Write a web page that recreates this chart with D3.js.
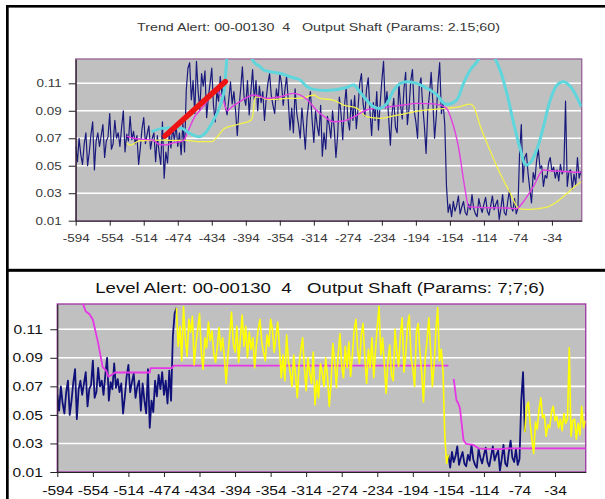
<!DOCTYPE html>
<html><head><meta charset="utf-8">
<script src="https://cdn.jsdelivr.net/npm/d3@7"></script>
<style>
body{margin:0;background:#fff}
svg{display:block}
text{font-family:"Liberation Sans",Arial,sans-serif;white-space:pre}
</style>
</head><body>
<svg id="chart" width="605" height="499"></svg>
<script>
// ---------------- data ----------------
const trendTitle = "Trend Alert: 00-00130  4   Output Shaft (Params: 2.15;60)";
const levelTitle = "Level Alert: 00-00130  4   Output Shaft (Params: 7;7;6)";
const xTickValues = [-594,-554,-514,-474,-434,-394,-354,-314,-274,-234,-194,-154,-114,-74,-34];
const yTickValues = [0.01,0.03,0.05,0.07,0.09,0.11];
// sample offsets (every 2nd reading) from -594 to 0
const sampleTimes = d3.range(-594, 1, 2);
// Output shaft vibration readings
const shaftVibration = [
 0.064,0.053,0.070,0.058,0.051,0.066,0.074,0.050,0.060,0.073,
 0.082,0.047,0.068,0.074,0.064,0.072,0.080,0.056,0.068,0.071,
 0.088,0.062,0.066,0.083,0.070,0.074,0.064,0.078,0.090,0.060,
 0.073,0.068,0.086,0.069,0.075,0.066,0.072,0.051,0.063,0.077,
 0.085,0.066,0.073,0.079,0.062,0.070,0.074,0.053,0.072,0.060,
 0.051,0.082,0.041,0.060,0.052,0.074,0.063,0.078,0.068,0.080,
 0.064,0.074,0.058,0.081,0.060,0.105,0.121,0.125,0.098,0.112,
 0.088,0.126,0.104,0.091,0.117,0.108,0.119,0.085,0.100,0.110,
 0.121,0.094,0.082,0.104,0.097,0.115,0.102,0.109,0.093,0.087,
 0.098,0.111,0.095,0.104,0.090,0.072,0.092,0.106,0.122,0.100,
 0.094,0.112,0.087,0.104,0.120,0.098,0.112,0.090,0.108,0.096,
 0.104,0.083,0.099,0.110,0.117,0.101,0.094,0.088,0.106,0.098,
 0.117,0.110,0.094,0.105,0.115,0.097,0.076,0.092,0.074,0.106,
 0.088,0.080,0.070,0.092,0.078,0.062,0.085,0.096,0.104,0.083,
 0.067,0.090,0.079,0.072,0.094,0.057,0.074,0.062,0.086,0.080,
 0.070,0.090,0.077,0.056,0.072,0.100,0.088,0.069,0.093,0.107,
 0.084,0.076,0.098,0.083,0.101,0.077,0.092,0.110,0.117,0.095,
 0.086,0.106,0.114,0.090,0.072,0.096,0.083,0.104,0.076,0.095,
 0.112,0.126,0.092,0.104,0.085,0.065,0.088,0.099,0.078,0.074,
 0.110,0.094,0.084,0.106,0.118,0.080,0.092,0.112,0.120,0.090,
 0.082,0.070,0.108,0.114,0.094,0.079,0.059,0.090,0.102,0.118,
 0.096,0.070,0.086,0.110,0.125,0.088,0.096,0.080,0.035,0.016,
 0.022,0.013,0.024,0.017,0.021,0.028,0.015,0.020,0.024,0.016,
 0.014,0.022,0.018,0.029,0.019,0.015,0.013,0.026,0.020,0.016,
 0.022,0.027,0.017,0.014,0.021,0.028,0.018,0.022,0.025,0.011,
 0.019,0.029,0.016,0.014,0.024,0.032,0.020,0.017,0.026,0.015,
 0.019,0.060,0.080,0.038,0.056,0.059,0.044,0.033,0.023,0.045,
 0.040,0.054,0.062,0.048,0.050,0.035,0.043,0.041,0.052,0.056,
 0.046,0.049,0.041,0.047,0.039,0.051,0.044,0.047,0.097,0.035,
 0.046,0.047,0.033,0.044,0.036,0.056,0.041,0.046
];
// Trend chart smoothed series [offset, value]
const trendMagenta = [[-534,0.0716],[-526,0.070],[-514,0.0692],[-503,0.0687],[-497,0.0658],[-489,0.0651],[-479,0.0666],[-467,0.0684],[-463,0.0736],[-454,0.0857],[-444,0.093],[-436,0.100],[-430,0.105],[-425,0.103],[-420,0.097],[-416,0.090],[-410,0.093],[-400,0.097],[-392,0.100],[-385,0.1015],[-369,0.099],[-355,0.100],[-338,0.1027],[-322,0.0982],[-311,0.0906],[-299,0.0845],[-291,0.082],[-279,0.0826],[-263,0.0869],[-252,0.0906],[-240,0.0918],[-224,0.093],[-209,0.0942],[-193,0.0954],[-173,0.095],[-158,0.0918],[-152,0.0833],[-144,0.0639],[-136,0.0323],[-132,0.0202],[-124,0.0199],[-107,0.0194],[-87,0.0192],[-75,0.0188],[-69,0.0227],[-56,0.0347],[-44,0.0469],[-36,0.0464],[-24,0.046],[-12,0.0455],[0,0.0453]];
const trendYellow = [[-534,0.0663],[-530,0.065],[-519,0.0682],[-493,0.0687],[-479,0.0684],[-463,0.0684],[-448,0.0675],[-434,0.0675],[-428,0.0707],[-419,0.0772],[-404,0.080],[-388,0.083],[-386,0.0857],[-383,0.100],[-377,0.100],[-369,0.0983],[-358,0.0983],[-346,0.099],[-330,0.099],[-314,0.1015],[-307,0.099],[-291,0.0978],[-279,0.0942],[-263,0.0918],[-252,0.0857],[-236,0.0845],[-224,0.0857],[-205,0.0882],[-181,0.0906],[-158,0.0918],[-142,0.093],[-130,0.0949],[-126,0.093],[-118,0.0784],[-107,0.0615],[-95,0.0445],[-83,0.030],[-75,0.0202],[-69,0.0183],[-60,0.0183],[-48,0.019],[-38,0.0202],[-28,0.0238],[-16,0.030],[-5,0.036],[0.5,0.0384]];
const trendCyan = [[-505,0.0748],[-493,0.0772],[-481,0.0775],[-469,0.0772],[-460,0.0736],[-448,0.0711],[-442,0.0736],[-434,0.0809],[-426,0.0906],[-420,0.1027],[-417,0.122],[-414,0.142],[-400,0.160],[-390,0.142],[-386,0.127],[-382,0.1240],[-378,0.1225],[-373,0.1197],[-365,0.1184],[-354,0.1173],[-342,0.1148],[-330,0.1124],[-322,0.1075],[-314,0.1056],[-291,0.1051],[-275,0.1071],[-267,0.1088],[-260,0.1039],[-252,0.0978],[-244,0.093],[-236,0.0918],[-228,0.0954],[-220,0.1051],[-212,0.11],[-205,0.1112],[-193,0.11],[-181,0.1064],[-169,0.1015],[-161,0.0954],[-154,0.0949],[-146,0.0978],[-138,0.11],[-130,0.1197],[-122,0.1257],[-110,0.136],[-101,0.128],[-95,0.1197],[-87,0.1027],[-79,0.0809],[-71,0.0615],[-65,0.0505],[-60,0.0518],[-52,0.0615],[-44,0.0784],[-36,0.0978],[-28,0.1088],[-20,0.1112],[-12,0.1075],[-5,0.1002],[0.5,0.093]];
const trendArrow = [[-489,0.0716],[-418,0.1112]];
// Level chart threshold line (two pieces)
const levelThresholdA = [[-567,0.131],[-562,0.1225],[-558,0.1207],[-554,0.1167],[-548,0.1003],[-543,0.0835],[-539,0.0811],[-536.6,0.0769],[-533,0.078],[-529,0.0797],[-490,0.0797],[-489,0.0828],[-465,0.0828],[-463,0.0845],[-154,0.0845]];
const levelThresholdB = [[-148,0.0753],[-145,0.0605],[-143,0.0582],[-141,0.0547],[-137,0.0325],[-134,0.0297],[-126,0.029],[-120,0.0266],[-111,0.0262],[-103,0.026],[-96,0.026],[-88,0.0266],[-74,0.0266],[0.5,0.0266]];
// state ranges of the level alert
const normalRanges = [[-594,-460],[-154,-68]];
const alertRanges = [[-460,-154],[-68,0]];

// ---------------- drawing ----------------
const svg = d3.select("#chart");
const readings = sampleTimes.map((t,i)=>[t, shaftVibration[i]]);

// frame
svg.append("rect").attr("x",6).attr("y",5).attr("width",599).attr("height",2.6).attr("fill","#000");
svg.append("rect").attr("x",6).attr("y",5).attr("width",2.7).attr("height",494).attr("fill","#000");
svg.append("rect").attr("x",6).attr("y",268.8).attr("width",599).attr("height",3).attr("fill","#000");

function scaleText(sel, sx){
  sel.each(function(){
    const t = d3.select(this);
    const x = +(t.attr("x")||0);
    t.attr("x", x/sx).attr("transform", `scale(${sx},1)`);
  });
}
const plainNum = d => String(d);

function panel(cfg){
  const g = svg.append("g");
  const x = d3.scaleLinear().domain(cfg.xDomain).range([cfg.left, cfg.right]);
  const y = d3.scaleLinear().domain([0.01, 0.1277]).range([cfg.bottom, cfg.top]);
  const id = cfg.id;
  svg.append("defs").append("clipPath").attr("id",id).append("rect")
    .attr("x",cfg.left).attr("y",cfg.top).attr("width",cfg.right-cfg.left).attr("height",cfg.bottom-cfg.top);
  g.append("rect").attr("x",cfg.left).attr("y",cfg.top).attr("width",cfg.right-cfg.left).attr("height",cfg.bottom-cfg.top)
    .attr("fill","#c0c0c0").attr("stroke",cfg.border).attr("stroke-width",1.4);
  g.append("g").selectAll("line").data(yTickValues.slice(1)).join("line")
    .attr("x1",cfg.left+0.7).attr("x2",cfg.right-0.7).attr("y1",d=>y(d)).attr("y2",d=>y(d))
    .attr("stroke","#fff").attr("stroke-width",1.6);
  const plot = g.append("g").attr("clip-path",`url(#${id})`);
  const ya = g.append("g").attr("transform",`translate(${cfg.left},0)`)
    .call(d3.axisLeft(y).tickValues(yTickValues).tickFormat(d=>d.toFixed(2)).tickSize(7).tickSizeOuter(0).tickPadding(cfg.yPad));
  const xa = g.append("g").attr("transform",`translate(0,${cfg.bottom})`)
    .call(d3.axisBottom(x).tickValues(xTickValues).tickFormat(plainNum).tickSize(5).tickSizeOuter(0).tickPadding(cfg.xPad));
  [ya,xa].forEach(a=>{
    a.select(".domain").attr("stroke","#222").attr("stroke-width",1.1);
    a.selectAll(".tick line").attr("stroke","#222");
    a.selectAll("text").attr("font-size",cfg.font).attr("fill",cfg.textColor)
      .attr("font-family",'"Liberation Sans",Arial,sans-serif');
    scaleText(a.selectAll("text"), cfg.sx);
  });
  svg.append("text").attr("text-anchor","middle").attr("font-size",cfg.titleFont).attr("fill",cfg.textColor)
    .attr("transform",`translate(${cfg.titleX},${cfg.titleY}) scale(${cfg.titleSx},1)`).text(cfg.title);
  return {x,y,plot};
}

// ---- Trend panel ----
const T = panel({id:"clipT", left:75.7, right:581.7, top:59, bottom:220.7, xDomain:[-594,1],
  border:"#9a6a9a", font:11, sx:1.22, yPad:7, xPad:8.5, textColor:"#383838",
  title:trendTitle, titleFont:11.5, titleSx:1.24, titleX:318.5, titleY:31});
const lineT = d3.line().x(d=>T.x(d[0])).y(d=>T.y(d[1]));
T.plot.append("path").datum(readings).attr("d",lineT).attr("fill","none")
  .attr("stroke","#1a1a7e").attr("stroke-width",1.2).attr("stroke-linejoin","round");
const smoothT = d3.line().x(d=>T.x(d[0])).y(d=>T.y(d[1])).curve(d3.curveMonotoneX);
T.plot.append("path").datum(trendYellow).attr("d",smoothT).attr("fill","none")
  .attr("stroke","#f2f24a").attr("stroke-width",1.3);
T.plot.append("path").datum(trendMagenta).attr("d",smoothT).attr("fill","none")
  .attr("stroke","#e23ee2").attr("stroke-width",1.4);
T.plot.append("path").datum(trendCyan).attr("d",d3.line().x(d=>T.x(d[0])).y(d=>T.y(d[1])).curve(d3.curveCatmullRom)).attr("fill","none")
  .attr("stroke","#5ed6dc").attr("stroke-width",3);
T.plot.append("path").datum(trendArrow).attr("d",lineT).attr("fill","none")
  .attr("stroke","#ee1414").attr("stroke-width",5.5).attr("stroke-linecap","round");

// ---- Level panel ----
const L = panel({id:"clipL", left:57.3, right:585.7, top:304, bottom:472, xDomain:[-594,0.5],
  border:"#a040a8", font:13, sx:1.2, yPad:7.5, xPad:8.5, textColor:"#111",
  title:levelTitle, titleFont:15.5, titleSx:1.2, titleX:320, titleY:293});
const lineL = d3.line().x(d=>L.x(d[0])).y(d=>L.y(d[1]));
const inRange = r => readings.filter(p=>p[0]>=r[0] && p[0]<=r[1]);
normalRanges.forEach(r=>{
  L.plot.append("path").datum(inRange(r)).attr("d",lineL).attr("fill","none")
    .attr("stroke","#10107a").attr("stroke-width",1.8).attr("stroke-linejoin","round");
});
[levelThresholdA, levelThresholdB].forEach(s=>{
  L.plot.append("path").datum(s).attr("d",lineL).attr("fill","none")
    .attr("stroke","#e636e6").attr("stroke-width",1.8);
});
alertRanges.forEach(r=>{
  L.plot.append("path").datum(inRange(r)).attr("d",lineL).attr("fill","none")
    .attr("stroke","#ffff00").attr("stroke-width",1.6).attr("stroke-linejoin","round");
});
</script>
</body></html>
